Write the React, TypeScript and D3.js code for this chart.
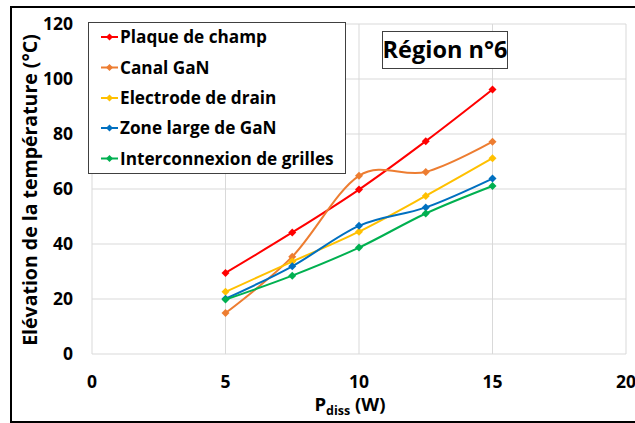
import React from "react";
import * as d3 from "d3";

const xValues = [5, 7.5, 10, 12.5, 15];
const seriesNames = [
  "Plaque de champ",
  "Canal GaN",
  "Electrode de drain",
  "Zone large de GaN",
  "Interconnexion de grilles",
];
const seriesColors = ["#FF0000", "#ED7D31", "#FFC000", "#0070C0", "#00B050"];
const plaque = [29.5, 44.2, 59.8, 77.4, 96.2];
const canal = [14.9, 35.4, 64.8, 66.2, 77.2];
const electrode = [22.6, 33.6, 44.5, 57.5, 71.2];
const zone = [20.1, 31.9, 46.6, 53.3, 63.8];
const interco = [19.8, 28.5, 38.7, 51.1, 61.1];
const seriesValues = [plaque, canal, electrode, zone, interco];
const xTicks = [0, 5, 10, 15, 20];
const yTicks = [0, 20, 40, 60, 80, 100, 120];

const FONT = "'Open Sans', sans-serif";

export default function App() {
  const x = d3.scaleLinear().domain([0, 20]).range([92, 626]);
  const y = d3.scaleLinear().domain([0, 120]).range([354, 24]);
  const line = d3
    .line<number>()
    .x((_, i) => x(xValues[i]))
    .y((d) => y(d))
    .curve(d3.curveCardinal.tension(0));
  const diamond = (cx: number, cy: number, r = 4) =>
    `M${cx},${cy - r}L${cx + r},${cy}L${cx},${cy + r}L${cx - r},${cy}Z`;

  const legendX = 88.5;
  const legendY = 22.5;
  const legendRowY = [37, 67.5, 98, 128, 158.5];

  return (
    <svg
      width={635}
      height={423}
      style={{ position: "absolute", left: 0, top: 0, background: "#fff" }}
      fontFamily={FONT}
    >
      <rect x={0} y={0} width={635} height={423} fill="#fff" />
      {/* outer border */}
      <path d="M11,423 L11,7 L640,7 M11,422 L640,422" fill="none" stroke="#000" strokeWidth={2} />

      {/* grid */}
      {yTicks.map((t) => (
        <line key={"gy" + t} x1={x(0)} x2={x(20)} y1={y(t)} y2={y(t)} stroke="#d9d9d9" strokeWidth={1} />
      ))}
      {xTicks.map((t) => (
        <line key={"gx" + t} x1={x(t)} x2={x(t)} y1={y(0)} y2={y(120)} stroke="#d9d9d9" strokeWidth={1} />
      ))}

      {/* y tick labels */}
      {yTicks.map((t) => (
        <text
          key={"ty" + t}
          x={73}
          y={y(t)}
          dy="0.35em"
          textAnchor="end"
          fontSize={17.5}
          fontWeight="bold"
          fill="#000"
        >
          {t}
        </text>
      ))}
      {/* x tick labels */}
      {xTicks.map((t) => (
        <text
          key={"tx" + t}
          x={x(t)}
          y={382}
          dy="0.35em"
          textAnchor="middle"
          fontSize={17.5}
          fontWeight="bold"
          fill="#000"
        >
          {t}
        </text>
      ))}

      {/* series */}
      {seriesValues.map((vals, si) => (
        <g key={"s" + si}>
          <path d={line(vals) || ""} fill="none" stroke={seriesColors[si]} strokeWidth={2} />
          {vals.map((v, i) => (
            <path key={i} d={diamond(x(xValues[i]), y(v))} fill={seriesColors[si]} />
          ))}
        </g>
      ))}

      {/* legend */}
      <rect x={legendX} y={legendY} width={257} height={151} fill="#fff" stroke="#404040" strokeWidth={1} />
      {seriesNames.map((name, i) => (
        <g key={"l" + i}>
          <line x1={101} x2={118} y1={legendRowY[i]} y2={legendRowY[i]} stroke={seriesColors[i]} strokeWidth={2} />
          <path d={diamond(109.5, legendRowY[i], 3.5)} fill={seriesColors[i]} />
          <text x={120} y={legendRowY[i]} dy="0.36em" fontSize={17.2} fontWeight="bold" fill="#000">
            {name}
          </text>
        </g>
      ))}

      {/* region box */}
      <rect x={382.5} y={31.5} width={125} height={37} fill="#fff" stroke="#404040" strokeWidth={1} />
      <text x={445} y={50} dy="0.36em" textAnchor="middle" fontSize={23.5} fontWeight="bold" fill="#000">
        Région n°6
      </text>

      {/* axis titles */}
      <text
        transform={`translate(30,190) rotate(-90)`}
        textAnchor="middle"
        dy="0.36em"
        fontSize={19.5}
        fontWeight="bold"
        fill="#000"
      >
        Elévation de la température (°C)
      </text>
      <text x={350} y={411} textAnchor="middle" fontSize={18.5} fontWeight="bold" fill="#000">
        P<tspan fontSize={12.5} dy={4}>diss</tspan>
        <tspan dy={-4}> (W)</tspan>
      </text>
    </svg>
  );
}
